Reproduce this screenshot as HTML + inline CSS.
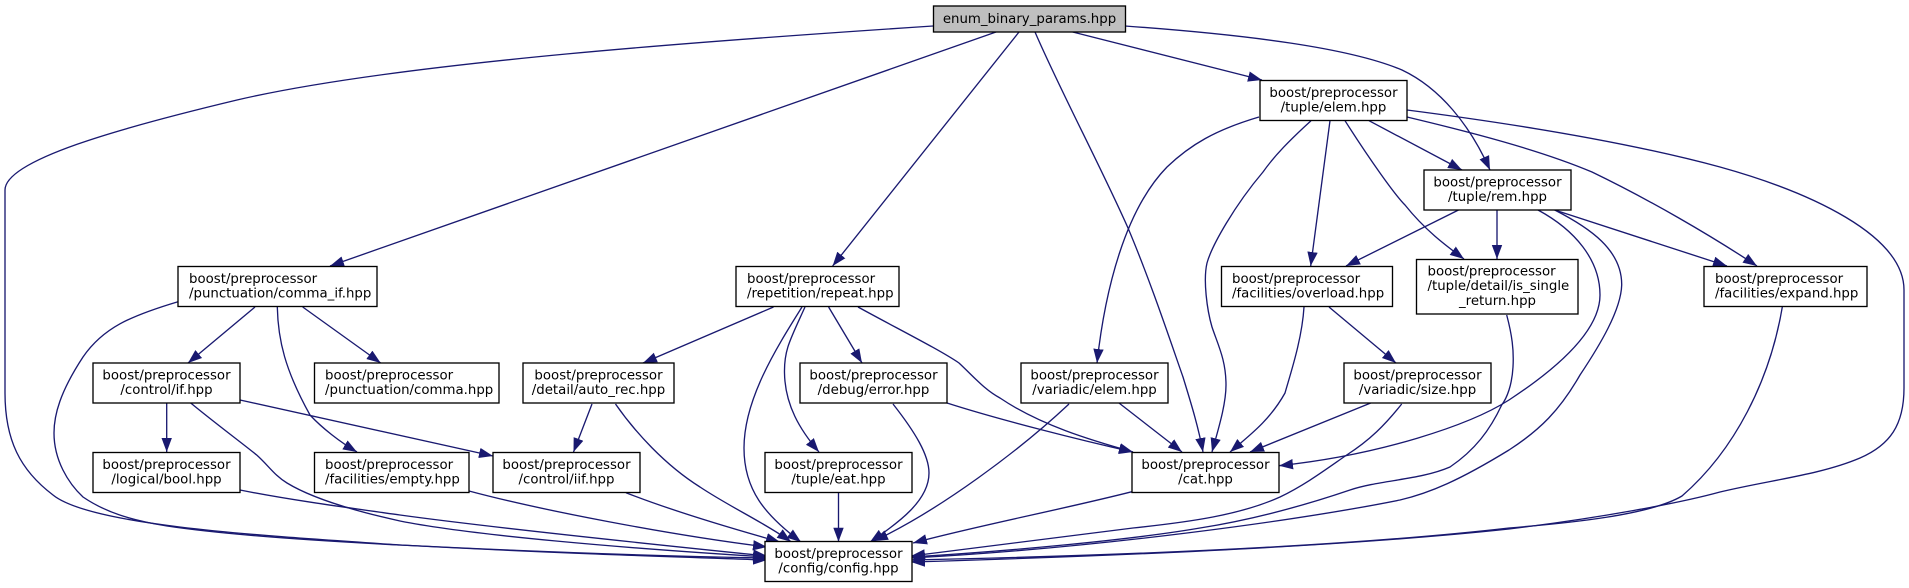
<!DOCTYPE html>
<html>
<head>
<meta charset="utf-8">
<title>enum_binary_params.hpp</title>
<style>
html,body{margin:0;padding:0;background:#fff;}
svg{display:block;}
text{font-family:"DejaVu Sans",sans-serif;font-size:13.33px;fill:#000;}
.m{text-anchor:middle;}
rect{stroke:#000;stroke-width:1.33;fill:#fff;}
path.e{fill:none;stroke:#191970;stroke-width:1.33;marker-end:url(#a);}
</style>
</head>
<body>
<svg width="1909" height="588" viewBox="0 0 1909 588" xmlns="http://www.w3.org/2000/svg">
<defs>
<marker id="a" markerUnits="userSpaceOnUse" markerWidth="16" markerHeight="12" refX="14" refY="6" orient="auto">
<polygon points="0,0.8 14,6 0,11.2" fill="#191970"/>
</marker>
</defs>

<!-- edges -->
<path class="e" d="M933,26 C720,40 400,62 237,100 C120,128 5,160 5,190 C5,260 5,330 5,393 C5,440 20,470 53,495 C90,525 250,535 400,545 C550,553 650,556 767,560"/>
<path class="e" d="M996,32 L330,266"/>
<path class="e" d="M1019,32 L832.6,266"/>
<path class="e" d="M1035,32 C1060,90 1100,165 1128,228 C1150,280 1170,340 1183,377 C1190,400 1198,425 1203,452"/>
<path class="e" d="M1072.7,32 L1262,80"/>
<path class="e" d="M1125,26 C1250,35 1350,48 1402,70 C1440,88 1470,125 1490,170"/>

<path class="e" d="M178,301.7 C130,316 103,328 83,357 C60,392 54,415 54,433 C54,460 68,483 83,497 C105,512 130,520 167,526 C220,534 300,540 400,545 C540,552 650,556 767,558"/>
<path class="e" d="M255,307 L188,363"/>
<path class="e" d="M302.7,307 L380.7,363"/>
<path class="e" d="M277.3,307 C278,340 285,370 310,415 C322,428 340,442 357,452"/>
<path class="e" d="M166.7,403 L166.7,452"/>
<path class="e" d="M240,400 L493,456"/>
<path class="e" d="M190.7,403 C215,423 238,440 256.7,455 C268,465 275,476 287,483 C310,497 350,510 400,521 C470,535 620,548 767,557"/>
<path class="e" d="M240,490 C290,500 350,508 400,515 C480,526 620,541 767,556"/>
<path class="e" d="M469,491 C540,510 670,535 767,547"/>
<path class="e" d="M626,492.7 C670,510 730,528 780,542"/>
<path class="e" d="M592,404 L573.5,452"/>
<path class="e" d="M615.5,404 C635,432 665,465 700,487 C730,507 765,523 791,541.7"/>

<path class="e" d="M773.5,307 L643,363"/>
<path class="e" d="M802,307 C775,350 744,400 744,448 C744,490 765,515 801,542"/>
<path class="e" d="M805,307 C790,340 784,350 784.5,373 C785,405 800,430 819,452"/>
<path class="e" d="M828.6,307 L862,363"/>
<path class="e" d="M858,307 C900,330 940,350 959,363 C975,378 985,390 1000,398 C1040,425 1090,440 1133,452"/>
<path class="e" d="M893,404 C915,432 929,455 929,473 C929,500 900,522 870,542"/>
<path class="e" d="M947,403 C1000,420 1080,440 1133,452"/>
<path class="e" d="M838.5,493 L838.5,541.7"/>

<path class="e" d="M1069,404 C1020,450 940,510 874,541"/>
<path class="e" d="M1119,403 L1182,452"/>
<path class="e" d="M1132,491.7 C1060,510 980,525 913,543"/>
<path class="e" d="M1401.7,404 C1385,425 1370,440 1346.7,455 C1325,470 1305,485 1280,497 C1240,515 1190,522 1133,528 C1050,538 980,548 911,556"/>
<path class="e" d="M1370.7,403 L1250,452"/>

<path class="e" d="M1259,117 C1215,130 1190,145 1167,167 C1125,210 1105,290 1097,363"/>
<path class="e" d="M1311,120.7 C1290,140 1275,155 1263,172 C1235,205 1212,245 1207,263 C1203,280 1207,310 1212,327 C1218,345 1226,360 1226,385 C1226,405 1218,430 1212,452"/>
<path class="e" d="M1330,120.7 L1310.7,266"/>
<path class="e" d="M1345,120.7 C1370,160 1395,195 1405,205 C1425,230 1445,245 1464,259"/>
<path class="e" d="M1369,120.7 L1462,170"/>
<path class="e" d="M1407,117 C1470,132 1540,150 1592,172 C1650,200 1710,235 1757,266"/>
<path class="e" d="M1407,110 C1500,122 1620,140 1720,167 C1810,192 1904,235 1904,290 C1904,330 1904,360 1904,388 C1904,425 1890,445 1860,458 C1820,475 1770,480 1720,492 C1680,503 1600,518 1509,529 C1360,545 1150,555 911,562"/>

<path class="e" d="M1458.5,210 L1346,266"/>
<path class="e" d="M1497,210 L1497,259"/>
<path class="e" d="M1554.7,210 L1727,266"/>
<path class="e" d="M1538,210 C1575,230 1600,260 1600,295 C1600,325 1570,360 1509,400 C1470,425 1380,455 1279,465.7"/>
<path class="e" d="M1554.7,210 C1590,228 1622,250 1621.7,285 C1621,310 1600,345 1580,375 C1560,410 1540,430 1509,450 C1460,480 1430,493 1400,500 C1300,520 1100,548 911,558"/>

<path class="e" d="M1304,307 C1302,340 1290,375 1285,393 C1270,420 1250,435 1230,452"/>
<path class="e" d="M1329,307 L1396,363"/>
<path class="e" d="M1506.7,315 C1512,335 1514,350 1513,367 C1512,385 1507,398 1501.7,405 C1490,430 1475,450 1450,467 C1420,480 1380,480 1350,490 C1300,507 1250,520 1200,528 C1130,540 1010,551 911,557"/>
<path class="e" d="M1782.3,307 C1770,380 1735,450 1682,496 C1650,515 1570,523 1509,528 C1360,545 1150,555 911,560"/>

<!-- nodes -->
<rect x="933.5" y="6" width="192" height="26" style="fill:#bfbfbf"/>
<text class="m" x="1029.5" y="23">enum_binary_params.hpp</text>

<rect x="1260" y="80.5" width="147" height="40"/>
<text class="m" x="1333.5" y="97">boost/preprocessor</text>
<text class="m" x="1333.5" y="111.5">/tuple/elem.hpp</text>

<rect x="1424" y="170" width="147" height="40"/>
<text class="m" x="1497.5" y="186.5">boost/preprocessor</text>
<text class="m" x="1497.5" y="201">/tuple/rem.hpp</text>

<rect x="1221.5" y="266.5" width="171" height="40"/>
<text x="1232" y="283">boost/preprocessor</text>
<text x="1232" y="297.5">/facilities/overload.hpp</text>

<rect x="1416.5" y="259.5" width="161.5" height="54.5"/>
<text x="1427.5" y="275.5">boost/preprocessor</text>
<text x="1427.5" y="290">/tuple/detail/is_single</text>
<text class="m" x="1497.5" y="305">_return.hpp</text>

<rect x="1704" y="266.5" width="163" height="40"/>
<text x="1715" y="283">boost/preprocessor</text>
<text x="1715" y="297.5">/facilities/expand.hpp</text>

<rect x="178" y="266.5" width="199" height="40"/>
<text x="189" y="283">boost/preprocessor</text>
<text x="189" y="297.5">/punctuation/comma_if.hpp</text>

<rect x="736" y="266.5" width="163" height="40"/>
<text x="747" y="283">boost/preprocessor</text>
<text x="747" y="297.5">/repetition/repeat.hpp</text>

<rect x="93" y="363" width="147" height="40"/>
<text class="m" x="166.5" y="379.5">boost/preprocessor</text>
<text class="m" x="166.5" y="394">/control/if.hpp</text>

<rect x="314.5" y="363" width="184.5" height="40"/>
<text x="325" y="379.5">boost/preprocessor</text>
<text x="325" y="394">/punctuation/comma.hpp</text>

<rect x="523" y="363" width="151" height="40"/>
<text class="m" x="598.5" y="379.5">boost/preprocessor</text>
<text class="m" x="598.5" y="394">/detail/auto_rec.hpp</text>

<rect x="800" y="363" width="147" height="40"/>
<text class="m" x="873.5" y="379.5">boost/preprocessor</text>
<text class="m" x="873.5" y="394">/debug/error.hpp</text>

<rect x="1021" y="363" width="147" height="40"/>
<text class="m" x="1094.5" y="379.5">boost/preprocessor</text>
<text class="m" x="1094.5" y="394">/variadic/elem.hpp</text>

<rect x="1344" y="363" width="147" height="40"/>
<text class="m" x="1417.5" y="379.5">boost/preprocessor</text>
<text class="m" x="1417.5" y="394">/variadic/size.hpp</text>

<rect x="93" y="452.5" width="147" height="40"/>
<text class="m" x="166.5" y="469">boost/preprocessor</text>
<text class="m" x="166.5" y="483.5">/logical/bool.hpp</text>

<rect x="314.5" y="452.5" width="154.5" height="40"/>
<text x="325" y="469">boost/preprocessor</text>
<text x="325" y="483.5">/facilities/empty.hpp</text>

<rect x="493" y="452.5" width="147" height="40"/>
<text class="m" x="566.5" y="469">boost/preprocessor</text>
<text class="m" x="566.5" y="483.5">/control/iif.hpp</text>

<rect x="765" y="452.5" width="147" height="40"/>
<text class="m" x="838.5" y="469">boost/preprocessor</text>
<text class="m" x="838.5" y="483.5">/tuple/eat.hpp</text>

<rect x="1132" y="452.5" width="147" height="40"/>
<text class="m" x="1205.5" y="469">boost/preprocessor</text>
<text class="m" x="1205.5" y="483.5">/cat.hpp</text>

<rect x="765" y="541.5" width="147" height="40"/>
<text class="m" x="838.5" y="558">boost/preprocessor</text>
<text class="m" x="838.5" y="572.5">/config/config.hpp</text>
</svg>
</body>
</html>
